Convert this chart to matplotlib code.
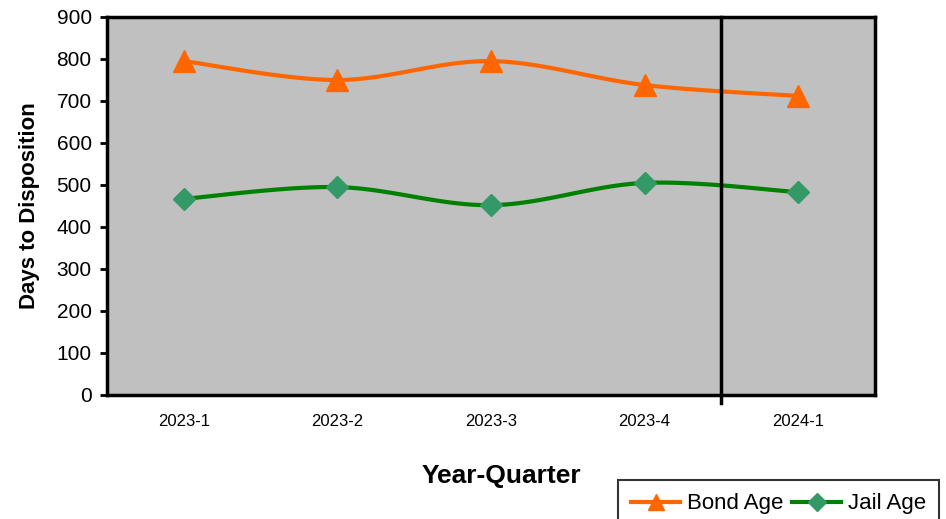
import numpy as np
import matplotlib
matplotlib.use("Agg")
import matplotlib.pyplot as plt

# data
quarters = ["2023-1", "2023-2", "2023-3", "2023-4", "2024-1"]
bond_age = [795, 750, 795, 738, 712]
jail_age = [467, 495, 452, 505, 483]


def smooth(xs, ys, n=30):
    # catmull-rom curve through the points (like Excel smoothed line)
    xs = np.asarray(xs, float)
    ys = np.asarray(ys, float)
    px = np.concatenate([[xs[0]], xs, [xs[-1]]])
    py = np.concatenate([[ys[0]], ys, [ys[-1]]])
    outx, outy = [], []
    for i in range(1, len(px) - 2):
        t = np.linspace(0, 1, n)
        for p, out in ((px, outx), (py, outy)):
            p0, p1, p2, p3 = p[i - 1], p[i], p[i + 1], p[i + 2]
            out.extend(0.5 * ((2 * p1) + (-p0 + p2) * t
                              + (2 * p0 - 5 * p1 + 4 * p2 - p3) * t ** 2
                              + (-p0 + 3 * p1 - 3 * p2 + p3) * t ** 3))
    return np.array(outx), np.array(outy)


plt.rcParams['font.family'] = ['Liberation Sans', 'DejaVu Sans']
fig = plt.figure(figsize=(9.46, 5.19), dpi=100)
ax = fig.add_axes([107 / 946, 1 - 395 / 519, (875 - 107) / 946, (395 - 17) / 519])
ax.set_facecolor('#C0C0C0')

x = np.arange(len(quarters))
orange = '#FF6600'
green = '#008000'
diamond = '#339966'

sx, sy = smooth(x, bond_age)
ax.plot(sx, sy, color=orange, lw=3, zorder=3)
ax.plot(x, bond_age, ls='none', marker='^', ms=16, color=orange, zorder=4)
sx, sy = smooth(x, jail_age)
ax.plot(sx, sy, color=green, lw=3, zorder=3)
ax.plot(x, jail_age, ls='none', marker='D', ms=11, color=diamond, zorder=4)

# legend handles
ax.plot([], [], color=orange, lw=3, marker='^', ms=12, label='Bond Age')
ax.plot([], [], color=green, lw=3, marker='D', mfc=diamond, mec=diamond, ms=9, label='Jail Age')

ax.axvline(3.5, ymin=-0.02, ymax=1, color='black', lw=2.5, clip_on=False, zorder=5)

ax.set_xlim(-0.5, 4.5)
ax.set_ylim(0, 900)
ax.set_yticks(range(0, 901, 100))
ax.set_xticks(x)
ax.set_xticklabels(quarters, fontsize=12)
ax.tick_params(axis='x', length=0, pad=14)
ax.tick_params(axis='y', labelsize=15, length=5, width=2, direction='out', pad=6)
for s in ax.spines.values():
    s.set_linewidth(2.5)

ax.set_ylabel('Days to Disposition', fontsize=16, fontweight='bold')
ax.yaxis.set_label_coords(-0.087, 0.5)
ax.set_xlabel('Year-Quarter', fontsize=19, fontweight='bold')
ax.xaxis.set_label_coords(0.513, -0.182)

leg = fig.legend(loc='upper left', bbox_to_anchor=(618 / 946, 1 - 480 / 519), ncol=2,
                 fontsize=16, frameon=True, fancybox=False, edgecolor='black',
                 handlelength=2.2, columnspacing=0.4, handletextpad=0.3,
                 borderaxespad=0, borderpad=0.6)
leg.get_frame().set_linewidth(1.5)

plt.savefig('out.png', dpi=100)
